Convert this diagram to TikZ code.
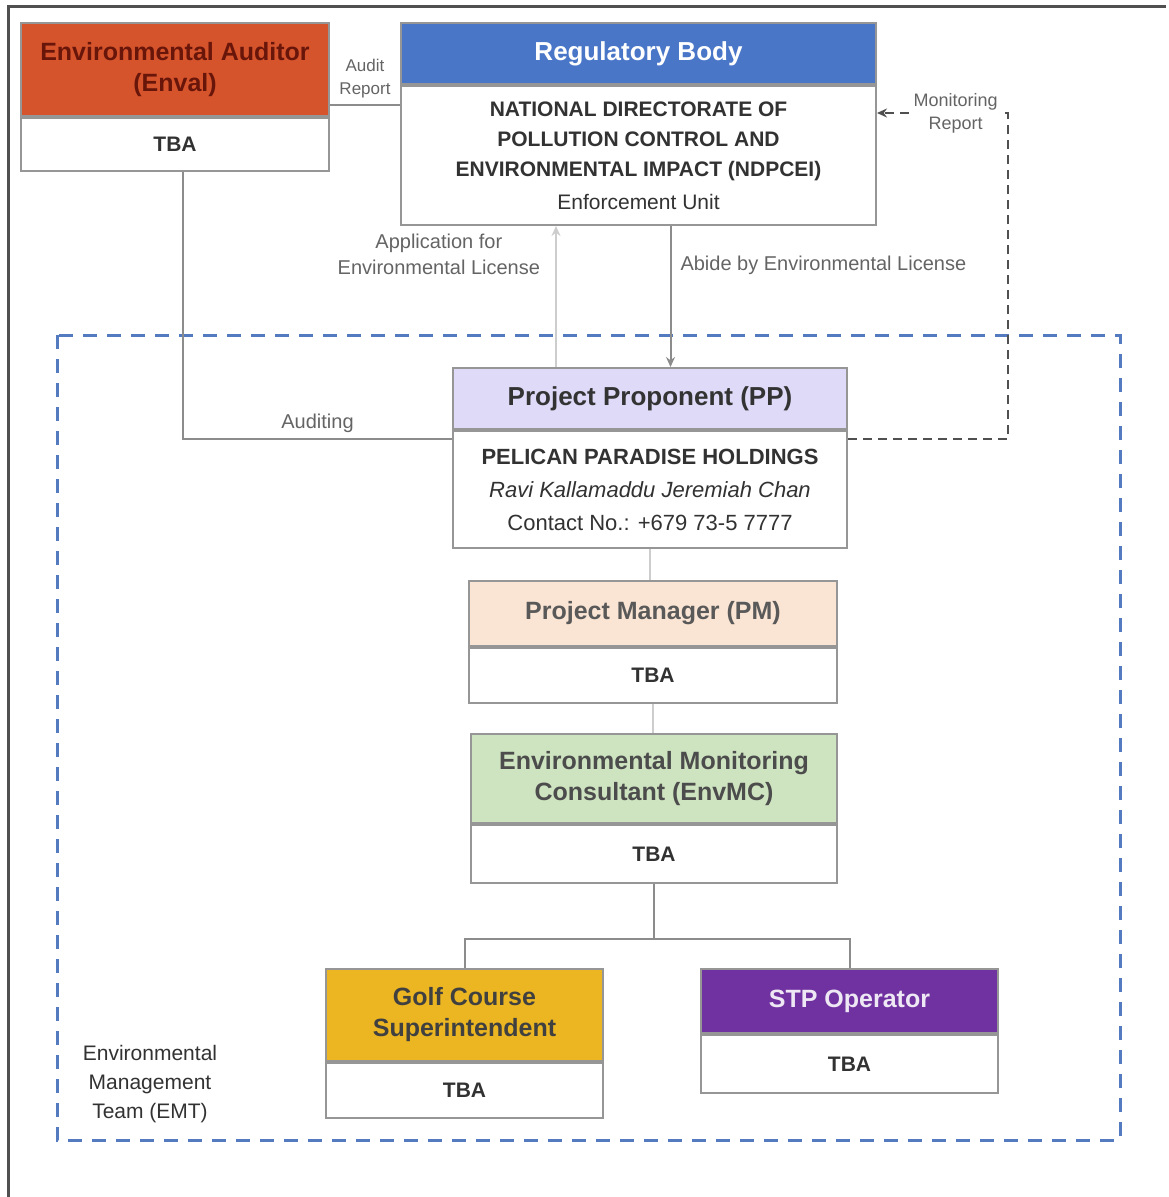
\documentclass[tikz,border=0pt]{standalone}
\usepackage{fontspec}
\setmainfont{Liberation Sans}
\usetikzlibrary{arrows.meta,positioning,calc}
\definecolor{audred}{RGB}{214,84,44}
\definecolor{audtext}{RGB}{105,22,10}
\definecolor{regblue}{RGB}{74,118,200}
\definecolor{pplav}{RGB}{222,218,248}
\definecolor{pmpeach}{RGB}{250,229,212}
\definecolor{envgreen}{RGB}{206,228,192}
\definecolor{golfgold}{RGB}{236,182,34}
\definecolor{stppurple}{RGB}{112,50,160}
\definecolor{emtblue}{RGB}{84,122,192}
\definecolor{boxgray}{RGB}{150,150,150}
\definecolor{linegray}{RGB}{140,140,140}
\definecolor{faintgray}{RGB}{205,205,205}
\definecolor{dashgray}{RGB}{80,80,80}
\definecolor{lblgray}{RGB}{100,100,100}
\definecolor{bodytext}{RGB}{50,50,50}

\begin{document}
\begin{tikzpicture}[x=1pt,y=-1pt,node distance=0pt,
    hdr/.style={draw=boxgray,line width=2pt,anchor=north west,align=center,inner sep=2pt,font=\fontsize{25}{31}\selectfont\bfseries},
    bdy/.style={draw=boxgray,line width=2pt,fill=white,text=bodytext,align=center,inner sep=2pt,font=\fontsize{21}{32}\selectfont\bfseries},
    lbl/.style={text=lblgray,align=center,inner sep=1pt,font=\fontsize{20}{26}\selectfont},
    link/.style={draw=linegray,line width=2pt},
    >={Stealth[length=10pt,width=9pt]}]
  \useasboundingbox (0,0) rectangle (1168,1197);
  % page frame and team boundary
  \draw[draw=dashgray,line width=3pt] (8,1197) -- (8,6) -- (1166,6);
  \draw[draw=emtblue,line width=3pt,dash pattern=on 14pt off 10pt] (57,335) rectangle (1120,1140);
  \node[text=bodytext,align=center,inner sep=1pt,font=\fontsize{21}{29}\selectfont] (emt) at (150,1084) {Environmental\\Management\\Team (EMT)};

  % top row
  \node[hdr,fill=audred,text=audtext,minimum width=308pt,minimum height=93pt] (audh) at (20,22) {Environmental Auditor\\(Enval)};
  \node[bdy,minimum width=308pt,minimum height=53pt,below=of audh] (audb) {TBA};
  \node[hdr,fill=regblue,text=white,minimum width=475pt,minimum height=61pt,font=\fontsize{26}{31}\selectfont\bfseries] (regh) at (400,22) {Regulatory Body};
  \node[bdy,minimum width=475pt,minimum height=139pt,below=of regh,font=\fontsize{21}{30}\selectfont\bfseries] (regb) {NATIONAL DIRECTORATE OF\\POLLUTION CONTROL AND\\ENVIRONMENTAL IMPACT (NDPCEI)\\[3pt]{\mdseries Enforcement Unit}};

  % project chain
  \node[hdr,fill=pplav,text=black!80,minimum width=394pt,minimum height=61pt,font=\fontsize{26}{31}\selectfont\bfseries] (pph) at (452,367) {Project Proponent (PP)};
  \node[bdy,minimum width=394pt,minimum height=117pt,below=of pph,font=\fontsize{22}{33}\selectfont\bfseries] (ppb) {PELICAN PARADISE HOLDINGS\\{\mdseries\itshape Ravi Kallamaddu Jeremiah Chan}\\{\mdseries Contact No.: +679 73-5 7777}};
  \node[hdr,fill=pmpeach,text=black!65,minimum width=368pt,minimum height=65pt] (pmh) at (468,580) {Project Manager (PM)};
  \node[bdy,minimum width=368pt,minimum height=55pt,below=of pmh] (pmb) {TBA};
  \node[hdr,fill=envgreen,text=black!70,minimum width=366pt,minimum height=89pt] (envh) at (470,733) {Environmental Monitoring\\Consultant (EnvMC)};
  \node[bdy,minimum width=366pt,minimum height=58pt,below=of envh] (envb) {TBA};
  \node[hdr,fill=golfgold,text=black!75,minimum width=277pt,minimum height=92pt] (golfh) at (325,968) {Golf Course\\Superintendent};
  \node[bdy,minimum width=277pt,minimum height=55pt,below=of golfh] (golfb) {TBA};
  \node[hdr,fill=stppurple,text=white!88!stppurple,minimum width=297pt,minimum height=64pt] (stph) at (700,968) {STP Operator};
  \node[bdy,minimum width=297pt,minimum height=58pt,below=of stph] (stpb) {TBA};

  % connectors
  \draw[link] ([yshift=12pt]audh.south east) -- ([yshift=12pt]audh.south east -| regb.west)
    node[lbl,midway,above=5pt,font=\fontsize{17}{23}\selectfont] (auditrep) {Audit\\Report};
  \draw[link] ([xshift=8pt]audb.south) |- ([yshift=-9pt]ppb.north west) node[lbl,pos=0.75,above=4pt] (auditing) {Auditing};
  \draw[link,draw=faintgray,->] ([xshift=-94pt]pph.north) -- ([xshift=-94pt]pph.north |- regb.south)
    node[lbl,pos=0.8,left=14pt] (applic) {Application for\\Environmental License};
  \draw[link,->] ([xshift=32pt]regb.south) -- ([xshift=32pt]regb.south |- pph.north)
    node[lbl,pos=0.28,right=8pt] (abide) {Abide by Environmental License};
  \coordinate (moncorner) at (1008,113);
  \draw[link,draw=dashgray,line width=2.5pt,dash pattern=on 9pt off 6pt,->] ([yshift=-9pt]ppb.north east) -| (moncorner) -- (regb.east |- moncorner)
    node[lbl,pos=0.4,fill=white,font=\fontsize{18}{23}\selectfont] (monrep) {Monitoring\\Report};
  \draw[link,draw=faintgray] (ppb.south) -- (ppb.south |- pmh.north);
  \draw[link,draw=faintgray] (pmb.south) -- (pmb.south |- envh.north);
  \draw[link] (envb.south) -- ++(0,55) coordinate (fork) -| (golfh.north);
  \draw[link] (fork) -| (stph.north);
\end{tikzpicture}
\end{document}
